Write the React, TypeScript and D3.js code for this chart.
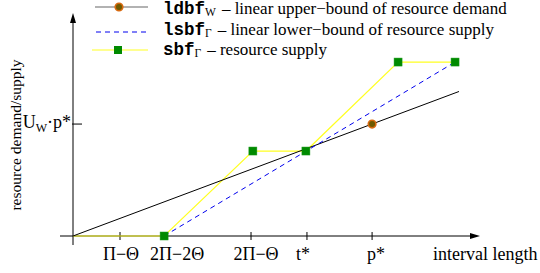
import * as d3 from 'd3';

// x positions in abstract interval-length units, y in resource units
const xTickLabels = ['Π−Θ', '2Π−2Θ', '2Π−Θ', 't*', 'p*'];
const xTickValues = [1.79, 3.47, 6.78, 8.91, 11.39];

const supplyX = [0, 3.47, 6.85, 8.87, 12.38, 14.55];
const supplyY = [0, 0, 3.81, 3.81, 7.8, 7.8];

const lowerX = [3.47, 14.55];
const lowerY = [0, 7.8];

const demandX = [0, 14.7];
const demandY = [0, 6.48];
const demandPoint = [11.39, 5.02];

const yTickValue = 5.02;

const legendKeys = ['ldbf', 'lsbf', 'sbf'];
const legendSubs = ['W', 'Γ', 'Γ'];
const legendTexts = [
    '– linear upper−bound of resource demand',
    '– linear lower−bound of resource supply',
    '– resource supply',
];

const W = 540;
const H = 273;
const serif = '"Liberation Serif", "Times New Roman", serif';
const mono = '"Liberation Mono", "Courier New", monospace';

export default function App() {
    const x = d3.scaleLinear().domain([0, 15.5]).range([73, 480]);
    const y = d3.scaleLinear().domain([0, 10]).range([236, 13]);

    const line = d3.line<[number, number]>()
        .x(d => x(d[0]))
        .y(d => y(d[1]));

    const supply = supplyX.map((v, i) => [v, supplyY[i]] as [number, number]);
    const lower = lowerX.map((v, i) => [v, lowerY[i]] as [number, number]);
    const demand = demandX.map((v, i) => [v, demandY[i]] as [number, number]);

    const x0 = x(0);
    const y0 = y(0);
    const xEnd = x(15.5);
    const yTop = y(10);

    // tick labels sit a bit off their ticks in the original
    const labelDx = [1, 13, 5, -4, 4];

    const legendLineY = [7, 32, 50];
    const legendTextY = [13.5, 35.2, 54.6];

    return (
        <svg width={W} height={H} style={{ position: 'absolute', left: 0, top: 0, background: '#fff' }}>
            {/* axes */}
            <line x1={60} x2={xEnd - 8} y1={y0} y2={y0} stroke="#000" strokeWidth={1} />
            <path d={`M${xEnd},${y0} L${xEnd - 10},${y0 - 3} L${xEnd - 10},${y0 + 3} Z`} fill="#000" />
            <line x1={x0} x2={x0} y1={y0 + 9} y2={yTop + 8} stroke="#000" strokeWidth={1} />
            <path d={`M${x0},${yTop} L${x0 - 3},${yTop + 10} L${x0 + 3},${yTop + 10} Z`} fill="#000" />

            {xTickValues.map((v, i) => (
                <g key={i}>
                    <line x1={x(v)} x2={x(v)} y1={y0 - 4} y2={y0 + 4} stroke="#000" />
                    <text x={x(v) + labelDx[i]} y={260} textAnchor="middle" fontFamily={serif} fontSize={18}>
                        {xTickLabels[i]}
                    </text>
                </g>
            ))}
            <text x={433} y={260} fontFamily={serif} fontSize={18}>interval length</text>

            <line x1={x0 - 1} x2={x0 + 9} y1={y(yTickValue)} y2={y(yTickValue)} stroke="#000" />
            <text x={71} y={y(yTickValue) + 4} textAnchor="end" fontFamily={serif} fontSize={18}>
                U<tspan fontSize={12} dy={4}>W</tspan><tspan dy={-4}>·p*</tspan>
            </text>

            <text transform="translate(20.5,135) rotate(-90)" textAnchor="middle" fontFamily={serif} fontSize={15.5}>
                resource demand/supply
            </text>

            {/* series */}
            <path d={line(supply) ?? ''} fill="none" stroke="#ffff22" strokeWidth={1.2} />
            <path d={line(demand) ?? ''} fill="none" stroke="#000" strokeWidth={1} />
            <path d={line(lower) ?? ''} fill="none" stroke="#0000ee" strokeWidth={1} strokeDasharray="5,4" />
            {supply.slice(1).map((d, i) => (
                <rect key={i} x={x(d[0]) - 4} y={y(d[1]) - 4} width={8} height={8} fill="#008a00" stroke="#1a9a1a" strokeWidth={0.5} />
            ))}
            <circle cx={x(demandPoint[0])} cy={y(demandPoint[1])} r={3.8} fill="#6e5a00" stroke="#d8690f" strokeWidth={1.6} />

            {/* legend */}
            <line x1={95} x2={148} y1={legendLineY[0]} y2={legendLineY[0]} stroke="#666" strokeWidth={1.2} />
            <circle cx={119} cy={legendLineY[0]} r={3.8} fill="#6e5a00" stroke="#d8690f" strokeWidth={1.6} />
            <line x1={96} x2={148} y1={legendLineY[1]} y2={legendLineY[1]} stroke="#0000ee" strokeWidth={1} strokeDasharray="5,4" />
            <line x1={92} x2={148} y1={legendLineY[2]} y2={legendLineY[2]} stroke="#ffff22" strokeWidth={1.2} />
            <rect x={114} y={legendLineY[2] - 4} width={8} height={8} fill="#008a00" />

            {legendKeys.map((k, i) => (
                <text key={i} x={163} y={legendTextY[i]} fontFamily={serif} fontSize={17}>
                    <tspan fontFamily={mono} fontWeight="bold" fontSize={17.5}>{k}</tspan>
                    <tspan fontSize={11.5} dy={2}>{legendSubs[i]}</tspan>
                    <tspan dy={-2} dx={6}>{legendTexts[i]}</tspan>
                </text>
            ))}
        </svg>
    );
}
